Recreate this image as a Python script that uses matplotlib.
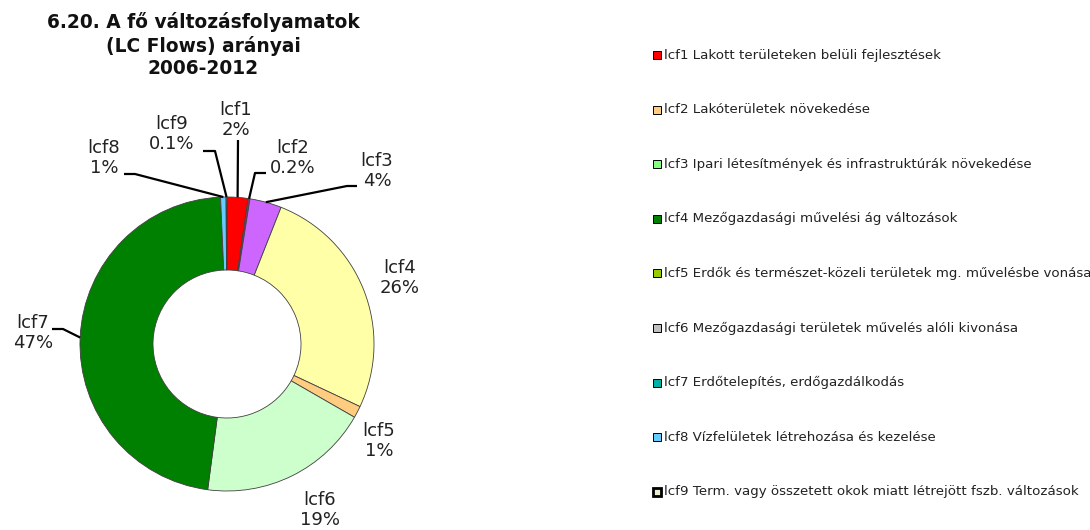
import numpy as np
import matplotlib
matplotlib.use("Agg")
import matplotlib.pyplot as plt
from matplotlib.patches import Rectangle

# data (percent of all LC flows, 2006-2012)
codes = ["lcf1", "lcf2", "lcf3", "lcf4", "lcf5", "lcf6", "lcf7", "lcf8", "lcf9"]
values = [2.3, 0.2, 3.5, 26.0, 1.3, 18.8, 47.2, 0.6, 0.1]
descriptions = [
    "Lakott területeken belüli fejlesztések",
    "Lakóterületek növekedése",
    "Ipari létesítmények és infrastruktúrák növekedése",
    "Mezőgazdasági művelési ág változások",
    "Erdők és természet-közeli területek mg. művelésbe vonása",
    "Mezőgazdasági területek művelés alóli kivonása",
    "Erdőtelepítés, erdőgazdálkodás",
    "Vízfelületek létrehozása és kezelése",
    "Term. vagy összetett okok miatt létrejött fszb. változások",
]
title = "6.20. A fő változásfolyamatok\n(LC Flows) arányai\n2006-2012"

# the original chart uses different colours in the ring and in the legend
pie_colors = ["#FF0000", "#993366", "#CC66FF", "#FFFFA8", "#FFCC80",
              "#CCFFCC", "#008000", "#66CCFF", "#FFFFFF"]
legend_colors = ["#FF0000", "#FFCC80", "#80FF80", "#008000", "#99CC00",
                 "#C0C0C0", "#00B0A0", "#66CCFF", "#E8F0D0"]

W, H = 1090, 530
CX, CY, R = 227, 344, 147


def img(x, y):
    # image pixel coords (y down) -> axes data coords (y up)
    return x, H - y


def pct(v):
    if v < 0.5:
        return f"{v:.1f}%"
    return f"{int(v + 0.5)}%"


fig = plt.figure(figsize=(W / 100, H / 100), dpi=100)
ax = fig.add_axes([0, 0, 1, 1])

wedges, _ = ax.pie(values, colors=pie_colors, startangle=90, counterclock=False,
                   radius=R, center=img(CX, CY),
                   wedgeprops=dict(width=73, edgecolor="#404040", linewidth=0.6))
ax.set_xlim(0, W)
ax.set_ylim(0, H)
ax.set_aspect("equal")
ax.axis("off")

# label centre and leader line points (image px); leader ends at wedge edge
label_layout = {
    0: ((236, 120), [(238, 140)]),
    1: ((293, 158), [(266, 173), (255, 173)]),
    2: ((377, 171), [(357, 186), (347, 186)]),
    3: ((400, 278), None),
    4: ((379, 441), None),
    5: ((320, 510), None),
    6: ((33, 333), [(52, 329), (63, 329)]),
    7: ((104, 158), [(124, 174), (135, 174)]),
    8: ((172, 134), [(203, 151), (215, 151)]),
}

for i, w in enumerate(wedges):
    (tx, ty), pts = label_layout[i]
    ax.text(*img(tx, ty), f"{codes[i]}\n{pct(values[i])}", ha="center", va="center",
            fontsize=13, color="#222222", multialignment="center")
    if pts:
        ang = np.deg2rad((w.theta1 + w.theta2) / 2)
        ex, ey = w.center[0] + R * np.cos(ang), w.center[1] + R * np.sin(ang)
        xs = [p[0] for p in pts] + [ex]
        ys = [H - p[1] for p in pts] + [ey]
        ax.plot(xs, ys, color="black", lw=1.6, solid_capstyle="butt")

ax.text(*img(203, 45), title, ha="center", va="center", fontsize=13.4,
        fontweight="bold", linespacing=1.22, color="#111111")

# legend, drawn by hand to follow the original spacing
for i, (code, desc) in enumerate(zip(codes, descriptions)):
    y = 55 + i * 54.6
    lw = 2.0 if i == 8 else 0.7
    ax.add_patch(Rectangle(img(653, y + 4), 8, 8, facecolor=legend_colors[i],
                           edgecolor="black", lw=lw))
    ax.text(*img(664, y), f"{code} {desc}", ha="left", va="center",
            fontsize=9.6, color="#222222")

fig.savefig("out.png", dpi=100, facecolor="white")
